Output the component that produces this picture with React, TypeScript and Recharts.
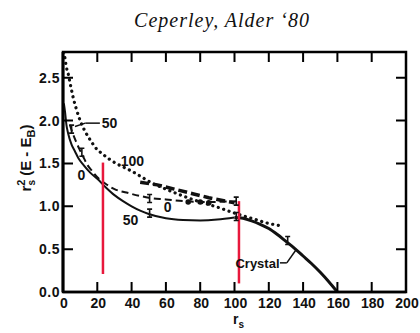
import React from 'react';
import { ComposedChart, Line, Scatter, XAxis, YAxis, ReferenceLine, ReferenceDot } from 'recharts';

const FONT = '"Liberation Sans", Arial, sans-serif';
const INK = '#111';
const RED = '#e8183c';

// axis ticks
const xTicks = [0, 20, 40, 60, 80, 100, 120, 140, 160, 180, 200];
const yTicks = [0, 0.5, 1.0, 1.5, 2.0, 2.5];
const X_MAX = 200;
const Y_MAX = 2.8;

// solid curve, label "50" (liquid)
const liquidX = [0.5, 1.2, 2, 3, 5, 7, 9, 12, 16, 20, 25, 30, 35, 40, 45, 50, 60, 70, 80, 90, 100];
const liquidY = [2.2, 2.1, 1.95, 1.85, 1.72, 1.64, 1.56, 1.48, 1.39, 1.32, 1.22, 1.13, 1.06, 1.0, 0.95, 0.91, 0.86, 0.84, 0.835, 0.845, 0.87];

// crystal branch
const crystalX = [100, 105, 110, 115, 120, 125, 130, 135, 140, 145, 150, 155, 160];
const crystalY = [0.87, 0.86, 0.83, 0.79, 0.74, 0.67, 0.59, 0.51, 0.42, 0.33, 0.23, 0.12, 0];

// dashed curve, label "0"
const dashedX = [4, 5.5, 7.5, 9.5, 11.5, 14, 17, 20, 25, 30, 37, 45, 50, 60, 70, 85, 101];
const dashedY = [1.95, 1.86, 1.76, 1.67, 1.59, 1.49, 1.41, 1.34, 1.26, 1.2, 1.16, 1.12, 1.1, 1.08, 1.06, 1.05, 1.06];

// dotted curve, label "100"
const dottedX = [0.6, 1.2, 2, 3, 4, 5.8, 8, 10, 13, 16, 20, 23, 27, 31, 36, 41, 46, 51, 60, 70, 80, 90, 100, 110, 120, 128];
const dottedY = [2.8, 2.72, 2.62, 2.55, 2.45, 2.28, 2.12, 2.0, 1.87, 1.77, 1.66, 1.61, 1.55, 1.5, 1.45, 1.4, 1.34, 1.28, 1.2, 1.12, 1.05, 0.99, 0.92, 0.86, 0.8, 0.77];

// heavy dashed segment
const heavyX = [45, 55, 65, 75, 85, 95, 100];
const heavyY = [1.28, 1.25, 1.2, 1.15, 1.1, 1.06, 1.04];

// filled points
const blobX = [73, 80, 85];
const blobY = [1.05, 1.05, 1.04];

// error bars
const errX = [5, 11, 50.5, 50.5, 101, 101, 131];
const errY = [1.9, 1.63, 1.09, 0.92, 1.06, 0.88, 0.6];

const zip = (xs: number[], ys: number[]) => xs.map((x, i) => ({ x, y: ys[i] }));

const liquid = zip(liquidX, liquidY);
const crystal = zip(crystalX, crystalY);
const dashed = zip(dashedX, dashedY);
const dotted = zip(dottedX, dottedY);
const heavy = zip(heavyX, heavyY);
const blobs = zip(blobX, blobY);
const errs = zip(errX, errY);

// plot box in page pixels (matches chart margins below)
const BOX = { left: 63, right: 406, top: 52, bottom: 292 };
const px = (v: number) => BOX.left + (v / X_MAX) * (BOX.right - BOX.left);
const py = (v: number) => BOX.bottom - (v / Y_MAX) * (BOX.bottom - BOX.top);
const TICK = 10;

const BottomTick = ({ x, y, payload }: any) => (
  <text x={x + 1} y={y + 16} textAnchor="middle" fontFamily={FONT} fontWeight="bold" fontSize={14} fill={INK}>
    {payload.value}
  </text>
);

const LeftTick = ({ x, y, payload }: any) => (
  <text x={x - 3} y={y + 5} textAnchor="end" fontFamily={FONT} fontWeight="bold" fontSize={14} letterSpacing={0.5} fill={INK}>
    {payload.value.toFixed(1)}
  </text>
);

const ErrShape = ({ cx, cy }: any) => (
  <g stroke={INK} strokeWidth={1.6}>
    <line x1={cx} x2={cx} y1={cy - 4} y2={cy + 4} />
    <line x1={cx - 2.5} x2={cx + 2.5} y1={cy - 4} y2={cy - 4} />
    <line x1={cx - 2.5} x2={cx + 2.5} y1={cy + 4} y2={cy + 4} />
  </g>
);

const BlobShape = ({ cx, cy }: any) => <circle cx={cx} cy={cy} r={2.8} fill={INK} />;

const labelStyle = { fill: INK, fontSize: 14, fontWeight: 'bold', fontFamily: FONT };

const curveLabels = [
  { x: 27.1, y: 1.97, text: '50', size: 14 },
  { x: 40.5, y: 1.53, text: '100', size: 14 },
  { x: 10.8, y: 1.36, text: '0', size: 14 },
  { x: 61, y: 0.99, text: '0', size: 14 },
  { x: 39.4, y: 0.84, text: '50', size: 14 },
  { x: 113.4, y: 0.33, text: 'Crystal', size: 13 },
];

export default function App() {
  const innerX = xTicks.slice(1, -1);
  const innerY = yTicks.slice(1);
  const tickPath =
    innerX.map((t) => `M${px(t)},${BOX.bottom}v${-TICK}M${px(t)},${BOX.top}v${TICK}`).join('') +
    innerY.map((t) => `M${BOX.left},${py(t)}h${TICK}M${BOX.right},${py(t)}h${-TICK}`).join('');
  return (
    <div style={{ position: 'absolute', left: 0, top: 0, width: 420, height: 333, background: '#fff' }}>
      <ComposedChart width={420} height={333} margin={{ top: 52, right: 14, bottom: 11, left: 23 }}>
        <XAxis
          type="number"
          dataKey="x"
          domain={[0, X_MAX]}
          ticks={xTicks}
          interval={0}
          height={30}
          axisLine={{ stroke: INK, strokeWidth: 2.5 }}
          tickLine={false}
          tickSize={0}
          tickMargin={0}
          tick={<BottomTick />}
        />
        <YAxis
          type="number"
          domain={[0, Y_MAX]}
          allowDataOverflow
          ticks={yTicks}
          interval={0}
          width={40}
          axisLine={{ stroke: INK, strokeWidth: 3 }}
          tickLine={false}
          tickSize={0}
          tickMargin={0}
          tick={<LeftTick />}
        />

        <Line data={dotted} dataKey="y" type="monotone" stroke={INK} strokeWidth={3.2} strokeDasharray="0.1 5.6" strokeLinecap="round" dot={false} isAnimationActive={false} />
        <Line data={heavy} dataKey="y" type="linear" stroke={INK} strokeWidth={3.5} strokeDasharray="9 4" dot={false} isAnimationActive={false} />
        <Line data={dashed} dataKey="y" type="monotone" stroke={INK} strokeWidth={2} strokeDasharray="7 4" dot={false} isAnimationActive={false} />
        <Line data={liquid} dataKey="y" type="monotone" stroke={INK} strokeWidth={2} dot={false} isAnimationActive={false} />
        <Line data={crystal} dataKey="y" type="monotone" stroke={INK} strokeWidth={3} dot={false} isAnimationActive={false} />
        <Scatter data={blobs} dataKey="y" shape={<BlobShape />} isAnimationActive={false} />
        <Scatter data={errs} dataKey="y" shape={<ErrShape />} isAnimationActive={false} />

        {/* leader lines */}
        <ReferenceLine segment={[{ x: 7, y: 1.93 }, { x: 13, y: 1.97 }]} stroke={INK} strokeWidth={1.5} />
        <ReferenceLine segment={[{ x: 13, y: 1.97 }, { x: 21.5, y: 1.97 }]} stroke={INK} strokeWidth={1.5} />
        <ReferenceLine segment={[{ x: 126.5, y: 0.34 }, { x: 130.5, y: 0.34 }]} stroke={INK} strokeWidth={1.5} />
        <ReferenceLine segment={[{ x: 130.5, y: 0.34 }, { x: 135.8, y: 0.49 }]} stroke={INK} strokeWidth={1.5} />

        {curveLabels.map((l, i) => (
          <ReferenceDot
            key={i}
            x={l.x}
            y={l.y}
            r={0}
            fill="none"
            stroke="none"
            label={{ value: l.text, position: 'center', ...labelStyle, fontSize: l.size }}
          />
        ))}

        {/* red markers */}
        <ReferenceLine segment={[{ x: 23.3, y: 1.51 }, { x: 23.3, y: 0.21 }]} stroke={RED} strokeWidth={2.5} />
        <ReferenceLine segment={[{ x: 102.6, y: 1.06 }, { x: 102.6, y: 0.1 }]} stroke={RED} strokeWidth={2.5} />
      </ComposedChart>

      <svg width={420} height={333} style={{ position: 'absolute', left: 0, top: 0, pointerEvents: 'none' }}>
        {/* frame and inward ticks on all sides */}
        <rect
          x={BOX.left}
          y={BOX.top}
          width={BOX.right - BOX.left}
          height={BOX.bottom - BOX.top}
          fill="none"
          stroke="#000"
          strokeWidth={2.5}
        />
        <path d={tickPath} fill="none" stroke="#000" strokeWidth={2} />
        <text x={222} y={27} textAnchor="middle" fontFamily='"Liberation Serif", "Times New Roman", serif' fontStyle="italic" fontSize={20} letterSpacing={1} fill={INK}>
          Ceperley, Alder ‘80
        </text>
        <text transform="translate(31,158) rotate(-90)" textAnchor="middle" fontFamily={FONT} fontWeight="bold" fontSize={15} fill={INK}>
          r<tspan dy={-6} fontSize={11}>2</tspan>
          <tspan dx={-6} dy={10} fontSize={10}>s</tspan>
          <tspan dy={-4}> (E - E</tspan>
          <tspan dy={4} fontSize={11}>B</tspan>
          <tspan dy={-4}>)</tspan>
        </text>
        <text x={233} y={324} fontFamily={FONT} fontWeight="bold" fontSize={14} fill={INK}>
          r<tspan dy={4} fontSize={10}>s</tspan>
        </text>
      </svg>
    </div>
  );
}
